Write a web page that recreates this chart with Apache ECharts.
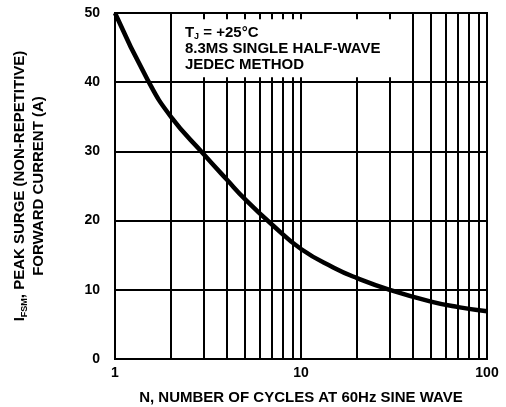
<!DOCTYPE html>
<html>
<head>
<meta charset="utf-8">
<script src="https://cdn.jsdelivr.net/npm/echarts@6/dist/echarts.min.js"></script>
<style>html,body{margin:0;padding:0;background:#fff}#c{width:506px;height:407px}</style>
</head>
<body>
<div id="c"></div>
<script>
// Data
const cyclesN = [1, 1.5, 2, 3, 4, 5, 7, 10, 15, 20, 30, 50, 70, 100];
const surgeA  = [50, 40.3, 35.0, 29.6, 25.9, 23.1, 19.4, 15.9, 13.2, 11.7, 10.0, 8.3, 7.5, 6.9];
const minorGridX = [2, 3, 4, 5, 6, 7, 8, 9, 20, 30, 40, 50, 60, 70, 80, 90];
const yTicks = [0, 10, 20, 30, 40, 50];
const xTicks = [1, 10, 100];
const noteBoxX = [2.1, 36];
const noteBoxY = [40.7, 49.1];
const noteLines = ['{b|T}{s|J}{b| = +25°C}', '{b|8.3MS SINGLE HALF-WAVE}', '{b|JEDEC METHOD}'];

const FONT = '"Liberation Sans", Arial, sans-serif';
const chart = echarts.init(document.getElementById('c'), null, {renderer: 'canvas'});
const curve = cyclesN.map((n, i) => [n, surgeA[i]]);

chart.setOption({
  animation: false,
  backgroundColor: '#fff',
  grid: {left: 115, right: 19, top: 13, bottom: 48, outerBoundsMode: 'none', containLabel: false,
         show: true, borderColor: '#000', borderWidth: 2, backgroundColor: 'transparent'},
  xAxis: {
    type: 'log', logBase: 10, min: xTicks[0], max: xTicks[xTicks.length - 1],
    name: 'N, NUMBER OF CYCLES AT 60Hz SINE WAVE',
    nameLocation: 'middle', nameGap: 31,
    nameTextStyle: {color: '#000', fontFamily: FONT, fontWeight: 'bold', fontSize: 15},
    axisLine: {show: true, lineStyle: {color: '#000', width: 2}},
    axisTick: {show: false},
    splitLine: {show: true, lineStyle: {color: '#000', width: 2}},
    axisLabel: {color: '#000', fontFamily: FONT, fontWeight: 'bold', fontSize: 14, margin: 7}
  },
  yAxis: {
    type: 'value', min: yTicks[0], max: yTicks[yTicks.length - 1], interval: yTicks[1] - yTicks[0],
    name: '{a|I}{s|FSM}{a|, PEAK SURGE (NON-REPETITIVE)}\n{a|FORWARD CURRENT (A)}',
    nameLocation: 'middle', nameRotate: 90, nameGap: 67,
    nameTextStyle: {
      color: '#000', fontFamily: FONT, fontWeight: 'bold', fontSize: 15, lineHeight: 19,
      rich: {
        a: {color: '#000', fontFamily: FONT, fontWeight: 'bold', fontSize: 15, lineHeight: 19},
        s: {color: '#000', fontFamily: FONT, fontWeight: 'bold', fontSize: 9, lineHeight: 19, verticalAlign: 'bottom'}
      }
    },
    axisLine: {show: true, lineStyle: {color: '#000', width: 2}},
    axisTick: {show: false},
    splitLine: {show: true, lineStyle: {color: '#000', width: 2}},
    axisLabel: {color: '#000', fontFamily: FONT, fontWeight: 'bold', fontSize: 14, margin: 15}
  },
  series: [
    {
      type: 'line', data: [], z: 1, silent: true,
      markLine: {
        z: 1, silent: true, symbol: ['none', 'none'], animation: false,
        label: {show: false},
        lineStyle: {color: '#000', width: 2, type: 'solid'},
        emphasis: {disabled: true},
        data: minorGridX.map(v => ({xAxis: v}))
      }
    },
    {
      type: 'custom', z: 2, silent: true,
      data: [[noteBoxX[0], noteBoxY[1], noteBoxX[1], noteBoxY[0]]],
      encode: {x: [0, 2], y: [1, 3]},
      renderItem: function (params, api) {
        const p0 = api.coord([api.value(0), api.value(1)]);
        const p1 = api.coord([api.value(2), api.value(3)]);
        const top = api.coord([api.value(0), yTicks[yTicks.length - 1]])[1];
        return {
          type: 'group',
          children: [
            {type: 'rect', shape: {x: p0[0], y: p0[1], width: p1[0] - p0[0], height: p1[1] - p0[1]},
             style: {fill: '#fff'}},
            {type: 'text', x: p0[0] + 10, y: top + 12,
             style: {
               text: noteLines.join('\n'), align: 'left', verticalAlign: 'top',
               fill: '#000', font: 'bold 15px ' + FONT,
               rich: {
                 b: {fill: '#000', fontFamily: FONT, fontWeight: 'bold', fontSize: 15, lineHeight: 16},
                 s: {fill: '#000', fontFamily: FONT, fontWeight: 'bold', fontSize: 9, lineHeight: 16, verticalAlign: 'bottom'}
               }
             }}
          ]
        };
      }
    },
    {
      type: 'line', data: curve, z: 3, smooth: 0.5, showSymbol: false, silent: true,
      lineStyle: {color: '#000', width: 4.5}
    }
  ]
});
</script>
</body>
</html>
